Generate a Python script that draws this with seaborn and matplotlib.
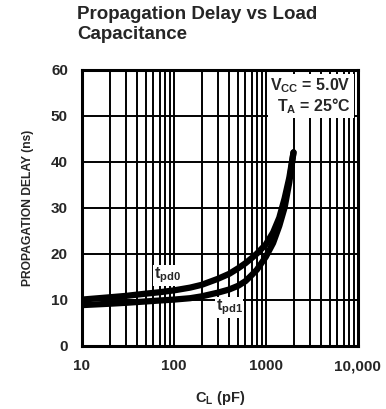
import numpy as np
import pandas as pd
import matplotlib
matplotlib.use("Agg")
import matplotlib.pyplot as plt
from matplotlib.ticker import FixedLocator, NullFormatter, NullLocator
import seaborn as sns

# values
cap_pf = [10, 20, 30, 50, 70, 100, 150, 200, 300, 400, 500, 600, 700, 800,
          1000, 1200, 1400, 1600, 1800, 2000]
tpd0_ns = [10.0, 10.5, 10.8, 11.3, 11.6, 12.0, 12.6, 13.2, 14.5, 15.6, 16.8,
           17.9, 19.0, 20.0, 22.0, 24.6, 27.8, 32.0, 36.5, 42.0]
tpd1_ns = [8.8, 9.1, 9.3, 9.6, 9.8, 10.0, 10.3, 10.7, 11.5, 12.2, 13.0,
           14.0, 15.3, 16.5, 19.3, 22.3, 26.0, 30.0, 35.5, 42.0]
x_ticks = [10, 100, 1000, 10000]
x_labels = ["10", "100", "1000", "10,000"]
y_ticks = [0, 10, 20, 30, 40, 50, 60]

df = pd.DataFrame({
    "C": cap_pf * 2,
    "t": tpd0_ns + tpd1_ns,
    "curve": ["tpd0"] * len(cap_pf) + ["tpd1"] * len(cap_pf),
})

sns.set_style("white")
plt.rcParams["font.family"] = ["Liberation Sans", "DejaVu Sans"]
plt.rcParams["font.weight"] = "bold"
plt.rcParams["mathtext.fontset"] = "custom"
plt.rcParams["mathtext.rm"] = "Liberation Sans:bold"
plt.rcParams["mathtext.it"] = "Liberation Sans:bold"
plt.rcParams["mathtext.bf"] = "Liberation Sans:bold"

fig = plt.figure(figsize=(3.86, 4.09), dpi=100)
ax = fig.add_axes([0.212, 0.155, 0.715, 0.675])

sns.lineplot(data=df, x="C", y="t", units="curve", estimator=None,
             color="black", linewidth=4.5, ax=ax, legend=False, zorder=3)

ax.set_xscale("log")
ax.set_xlim(10, 10000)
ax.set_ylim(0, 60)

# grid: every minor log line, horizontal every 10
minor = [m * d for d in (10, 100, 1000) for m in range(2, 10)]
for xv in minor + [100, 1000]:
    ax.axvline(xv, color="black", lw=1.4, zorder=1)
for yv in y_ticks[1:-1]:
    ax.axhline(yv, color="black", lw=1.4, zorder=1)

ax.xaxis.set_major_locator(FixedLocator(x_ticks))
ax.xaxis.set_minor_locator(NullLocator())
ax.xaxis.set_minor_formatter(NullFormatter())
ax.set_xticklabels(x_labels)
ax.set_yticks(y_ticks)
ax.tick_params(length=0, labelsize=11, pad=10)
for lbl in ax.get_xticklabels() + ax.get_yticklabels():
    lbl.set_fontweight("bold")

for s in ax.spines.values():
    s.set_linewidth(2.2)
    s.set_color("black")

ax.set_xlabel("C$_\\mathregular{L}$ (pF)", fontsize=10.5, fontweight="bold", labelpad=11)
ax.set_ylabel("PROPAGATION DELAY (ns)", fontsize=8.7, fontweight="bold", labelpad=12)

ax.text(0.975, 0.975, "V$_\\mathregular{CC}$ = 5.0V\nT$_\\mathregular{A}$ = 25°C",
        transform=ax.transAxes, ha="right", va="top", fontsize=11.5,
        fontweight="bold", linespacing=1.05, zorder=4,
        bbox=dict(facecolor="white", edgecolor="none", pad=2))
ax.text(85, 15.3, "t$_\\mathregular{pd0}$", fontsize=11.5, fontweight="bold",
        ha="center", va="center", zorder=4,
        bbox=dict(facecolor="white", edgecolor="none", pad=0.5))
ax.text(400, 8.3, "t$_\\mathregular{pd1}$", fontsize=11.5, fontweight="bold",
        ha="center", va="center", zorder=4,
        bbox=dict(facecolor="white", edgecolor="none", pad=0.5))

fig.text(0.200, 0.985, "Propagation Delay vs Load\nCapacitance", ha="left",
         va="top", fontsize=13.5, fontweight="bold", linespacing=1.2)

fig.savefig("out.png", dpi=100)
